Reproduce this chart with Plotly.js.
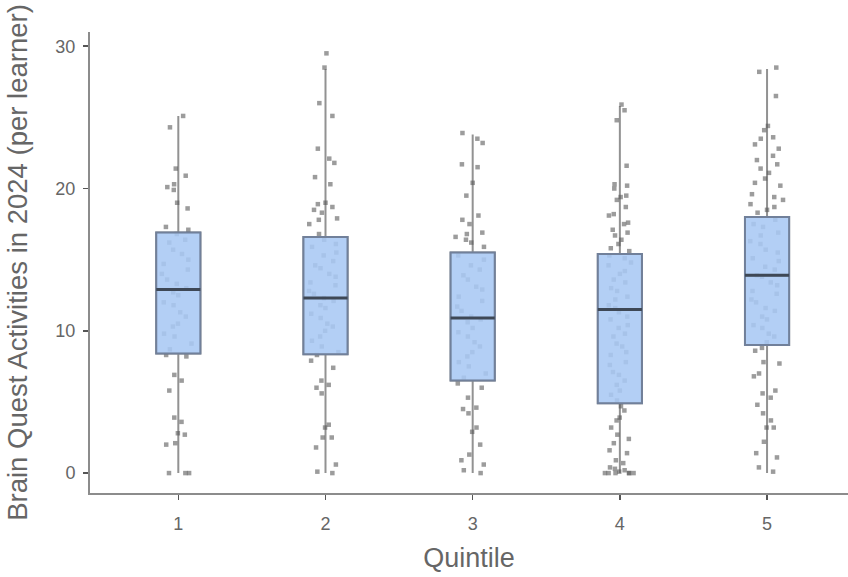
<!DOCTYPE html>
<html>
<head>
<meta charset="utf-8">
<script src="https://cdn.plot.ly/plotly-3.0.1.min.js"></script>
<style>html,body{margin:0;padding:0;background:#fff;}#chart{width:848px;height:577px;}</style>
</head>
<body>
<div id="chart"></div>
<script>
// Quintile categories
const quintiles = [1, 2, 3, 4, 5];
const tickLabels = ["1", "2", "3", "4", "5"];

// Box statistics
const q1Vals = [8.4, 8.35, 6.5, 4.9, 9.0];
const medianVals = [12.9, 12.3, 10.9, 11.5, 13.9];
const q3Vals = [16.9, 16.6, 15.5, 15.4, 18.0];
const lowerFence = [0, 0, 0, 0, 0];
const upperFence = [25.1, 28.4, 23.8, 25.8, 28.4];

// Individual learners (jittered points) per quintile
const pointsQ1 = [25.1, 24.3, 21.4, 20.9, 20.3, 20.1, 19.9, 19.0, 18.6, 17.3, 17.1,
  8.3, 8.2, 6.9, 6.5, 5.8, 3.9, 3.6, 2.8, 2.7, 2.1, 2.0, 0, 0, 0,
  8.7, 9.1, 9.6, 9.8, 10.3, 10.5, 11.0, 11.3, 11.8, 12.0, 12.5, 12.7, 13.0, 13.3, 13.6, 14.0, 14.3, 14.7, 15.0, 15.4, 15.7, 16.2, 16.4, 16.8];
const pointsQ2 = [29.5, 28.5, 26.0, 25.1, 22.8, 22.1, 21.8, 20.8, 20.3, 19.0, 18.9, 18.7, 18.5, 18.3, 17.9, 17.8, 17.5, 16.8,
  8.3, 7.9, 7.4, 6.5, 6.2, 6.0, 5.6, 3.4, 3.2, 2.5, 2.5, 1.8, 0.6, 0.1, 0,
  8.5, 8.9, 9.3, 9.6, 10.0, 10.3, 10.5, 10.9, 11.2, 11.6, 11.8, 12.1, 12.3, 12.6, 12.8, 13.2, 13.4, 13.8, 14.0, 14.4, 14.6, 14.9, 15.3, 15.5, 15.9, 16.1, 16.4];
const pointsQ3 = [23.9, 23.5, 23.2, 21.7, 21.5, 20.4, 19.5, 18.1, 17.8, 17.5, 16.9, 16.8, 16.6, 16.4, 16.2, 15.9,
  6.3, 6.0, 5.3, 4.6, 4.5, 4.2, 3.2, 2.9, 2.0, 1.3, 0.9, 0.6, 0.2, 0,
  6.7, 7.0, 7.5, 7.8, 8.2, 8.5, 8.9, 9.2, 9.6, 9.9, 10.2, 10.6, 10.8, 11.0, 11.4, 11.7, 12.1, 12.4, 12.9, 13.1, 13.6, 13.9, 14.3, 14.6, 15.0, 15.3];
const pointsQ4 = [25.9, 25.5, 24.8, 21.6, 20.3, 20.2, 20.0, 19.5, 19.4, 19.2, 18.7, 18.2, 18.1, 17.6, 17.5, 17.1, 16.9, 16.7, 16.4, 16.1, 15.8, 15.6,
  4.7, 4.4, 3.9, 3.7, 3.2, 2.7, 2.4, 2.1, 1.6, 1.4, 0.9, 0.7, 0.4, 0.3, 0.2, 0.1, 0, 0, 0, 0, 0, 0,
  5.1, 5.5, 5.8, 6.2, 6.5, 6.9, 7.1, 7.6, 7.8, 8.3, 8.5, 8.9, 9.1, 9.6, 9.8, 10.2, 10.4, 10.8, 11.0, 11.3, 11.6, 11.8, 12.2, 12.4, 12.8, 13.0, 13.4, 13.6, 14.0, 14.2, 14.6, 14.8, 15.1, 15.3];
const pointsQ5 = [28.5, 28.2, 26.5, 24.4, 24.1, 23.6, 23.5, 23.1, 22.8, 22.3, 22.0, 21.7, 21.4, 21.1, 20.7, 20.4, 20.2, 19.6, 19.4, 19.2, 18.9, 18.7, 18.5, 18.3,
  8.8, 8.6, 7.8, 7.7, 7.0, 6.8, 5.8, 5.6, 5.3, 4.8, 4.2, 3.7, 3.2, 3.2, 2.2, 1.4, 1.1, 0.4, 0.1,
  9.2, 9.6, 9.8, 10.2, 10.4, 10.8, 11.0, 11.4, 11.6, 12.0, 12.2, 12.6, 12.8, 13.2, 13.4, 13.8, 13.9, 14.3, 14.5, 14.9, 15.1, 15.5, 15.7, 16.1, 16.3, 16.7, 16.9, 17.3, 17.5, 17.8];

const allPoints = [pointsQ1, pointsQ2, pointsQ3, pointsQ4, pointsQ5];
const BOXW = 0.3;

const traces = [];
// whiskers (grey)
traces.push({
  type: 'box', x: quintiles, q1: q1Vals, median: medianVals, q3: q3Vals,
  lowerfence: lowerFence, upperfence: upperFence, width: BOXW, whiskerwidth: 0,
  boxpoints: false, fillcolor: 'rgba(0,0,0,0)', line: {color: '#929292', width: 2},
  showlegend: false, hoverinfo: 'skip'
});
// jittered points
allPoints.forEach((pts, i) => {
  traces.push({
    type: 'box', y: pts, x0: quintiles[i], width: BOXW,
    boxpoints: 'all', jitter: 0.8, pointpos: 0,
    fillcolor: 'rgba(0,0,0,0)', line: {width: 0, color: 'rgba(0,0,0,0)'},
    marker: {size: 4.5, symbol: 'square', color: 'rgba(90,90,90,0.6)'},
    showlegend: false, hoverinfo: 'skip'
  });
});
// boxes
traces.push({
  type: 'box', x: quintiles, q1: q1Vals, median: medianVals, q3: q3Vals,
  lowerfence: q1Vals, upperfence: q3Vals, width: BOXW, whiskerwidth: 0,
  boxpoints: false, fillcolor: 'rgba(168,200,244,0.88)', line: {color: '#71809a', width: 2},
  showlegend: false, hoverinfo: 'skip'
});
// median lines
traces.push({
  type: 'box', x: quintiles, q1: medianVals, median: medianVals, q3: medianVals,
  lowerfence: medianVals, upperfence: medianVals, width: BOXW, whiskerwidth: 0,
  boxpoints: false, fillcolor: 'rgba(0,0,0,0)', line: {color: '#3e4856', width: 3},
  showlegend: false, hoverinfo: 'skip'
});

const layout = {
  width: 848, height: 577,
  margin: {l: 90, r: 0, t: 32, b: 84},
  paper_bgcolor: '#fff', plot_bgcolor: '#fff',
  boxmode: 'overlay',
  showlegend: false,
  font: {family: 'Liberation Sans, Arial, sans-serif', color: '#666'},
  xaxis: {
    range: [0.4, 5.55], tickvals: quintiles, ticktext: tickLabels,
    showgrid: false, zeroline: false, showline: true, linecolor: '#8c8c8c', linewidth: 2,
    ticks: 'outside', ticklen: 5, tickwidth: 1.5, tickcolor: '#555',
    tickfont: {size: 18, color: '#666'}, ticklabelstandoff: 8,
    title: {text: 'Quintile', font: {size: 27, color: '#666'}, standoff: 16}
  },
  yaxis: {
    range: [-1.4, 31.0], tickvals: [0, 10, 20, 30],
    showgrid: false, zeroline: false, showline: true, linecolor: '#8c8c8c', linewidth: 2,
    ticks: 'outside', ticklen: 5, tickwidth: 1.5, tickcolor: '#555',
    tickfont: {size: 18, color: '#666'}, ticklabelstandoff: 4,
    title: {text: 'Brain Quest Activities in 2024 (per learner)', font: {size: 27.5, color: '#666'}, standoff: 20}
  }
};

Plotly.newPlot('chart', traces, layout, {staticPlot: true, displayModeBar: false});
</script>
</body>
</html>
